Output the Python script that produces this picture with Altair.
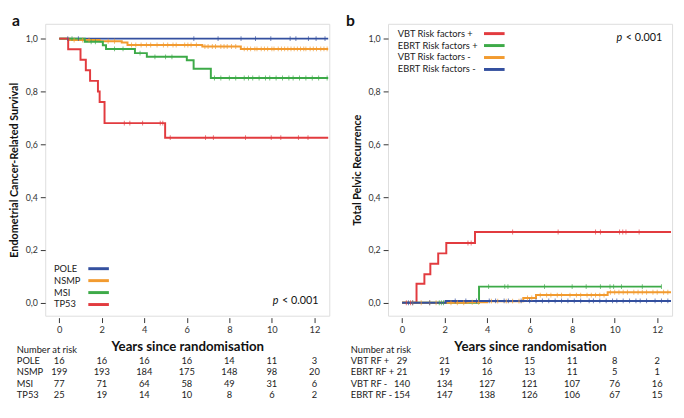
import altair as alt
import pandas as pd

FONT = "Lato"
W, H = 290, 298
X_DOMAIN = [-0.66, 12.7]
Y_DOMAIN = [-0.049, 1.056]
YEARS = [0, 2, 4, 6, 8, 10, 12]
Y_TICKS = [0.0, 0.2, 0.4, 0.6, 0.8, 1.0]

# ---------------- Panel a: cancer-related survival ----------------
A_GROUPS = ["POLE", "NSMP", "MSI", "TP53"]
A_COLORS = ["#34509f", "#f29b30", "#3daa48", "#e23b3f"]
A_TIMES = {
    "POLE": [0.0],
    "NSMP": [0.0, 0.5, 1.9, 2.94, 3.21, 6.73, 8.54],
    "MSI": [0.0, 1.2, 2.05, 2.2, 3.56, 4.12, 6.0, 6.32, 7.13],
    "TP53": [0.0, 0.42, 1.0, 1.25, 1.45, 1.82, 1.9, 2.13, 4.98],
}
A_VALUES = {
    "POLE": [1.0],
    "NSMP": [1.0, 0.995, 0.99, 0.985, 0.976, 0.97, 0.961],
    "MSI": [1.0, 0.988, 0.975, 0.961, 0.945, 0.931, 0.918, 0.886, 0.851],
    "TP53": [1.0, 0.96, 0.92, 0.88, 0.84, 0.80, 0.76, 0.68, 0.625],
}
A_END = {"POLE": 12.65, "NSMP": 12.65, "MSI": 12.65, "TP53": 12.65}
A_CENSOR = {
    "POLE": [0.4, 0.9, 6.33, 7.47, 8.55, 9.23, 9.95, 10.86, 11.13, 11.72, 12.08, 12.5],
    "NSMP": [0.7, 1.1, 1.4, 2.3, 2.6, 3.4, 3.6, 3.85, 4.1, 4.3, 4.6, 4.9, 5.1, 5.35, 5.5,
             5.9, 6.05, 6.2, 6.45, 6.85, 7.0, 7.2, 7.35, 7.6, 7.75, 7.9, 8.1, 8.3, 8.7,
             8.85, 9.0, 9.2, 9.3, 9.5, 9.65, 9.8, 10.0, 10.1, 10.3, 10.45, 10.6, 10.75,
             10.9, 11.05, 11.2, 11.35, 11.5, 11.6, 11.8, 11.95, 12.1, 12.3, 12.45, 12.6],
    "MSI": [0.6, 1.5, 1.7, 2.6, 3.0, 3.8, 4.5, 5.0, 5.3, 7.3, 7.6, 8.0, 8.3, 8.7, 8.9,
            9.1, 9.4, 9.7, 9.9, 10.2, 10.5, 10.8, 11.0, 11.3, 11.6, 11.9, 12.2, 12.6],
    "TP53": [3.06, 3.32, 3.92, 4.75, 4.87, 5.22, 6.88, 7.25, 8.76, 9.97, 10.42, 11.25, 11.7],
}
A_RISK_LABELS = ["POLE", "NSMP", "MSI", "TP53"]
A_RISK = [
    [16, 16, 16, 16, 14, 11, 3],
    [199, 193, 184, 175, 148, 98, 20],
    [77, 71, 64, 58, 49, 31, 6],
    [25, 19, 14, 10, 8, 6, 2],
]

# ---------------- Panel b: total pelvic recurrence ----------------
B_GROUPS = ["VBT Risk factors +", "EBRT Risk factors +", "VBT Risk factors -", "EBRT Risk factors -"]
B_COLORS = ["#e23b3f", "#3daa48", "#f29b30", "#34509f"]
B_TIMES = {
    "VBT Risk factors +": [0.0, 0.68, 1.05, 1.33, 1.70, 2.08, 3.43],
    "EBRT Risk factors +": [0.0, 3.62],
    "VBT Risk factors -": [0.0, 3.1, 4.0, 5.7, 6.3, 9.67],
    "EBRT Risk factors -": [0.0, 2.05],
}
B_VALUES = {
    "VBT Risk factors +": [0.0, 0.072, 0.108, 0.148, 0.187, 0.226, 0.268],
    "EBRT Risk factors +": [0.0, 0.061],
    "VBT Risk factors -": [0.0, 0.002, 0.006, 0.018, 0.029, 0.04],
    "EBRT Risk factors -": [0.0, 0.007],
}
B_END = {"VBT Risk factors +": 12.65, "EBRT Risk factors +": 12.2,
         "VBT Risk factors -": 12.65, "EBRT Risk factors -": 12.65}
B_CENSOR = {
    "VBT Risk factors +": [0.2, 0.4, 3.1, 3.25, 5.2, 7.34, 9.1, 9.33, 10.23, 10.38, 10.53, 11.15],
    "EBRT Risk factors +": [1.75, 1.85, 1.95, 4.07, 4.83, 4.98, 6.7, 8.0, 8.66, 9.33, 9.78,
                            9.95, 10.32, 11.3, 12.2],
    "VBT Risk factors -": [0.5, 0.9, 1.3, 1.6, 2.3, 2.6, 2.9, 3.3, 3.6, 4.2, 4.5, 4.9, 5.2,
                           5.5, 5.9, 6.1, 6.5, 6.8, 7.0, 7.3, 7.5, 7.9, 8.2, 8.4, 8.7, 8.9,
                           9.1, 9.3, 9.5, 9.8, 10.0, 10.2, 10.4, 10.6, 10.9, 11.1, 11.3,
                           11.5, 11.8, 12.0, 12.3, 12.5],
    "EBRT Risk factors -": [0.3, 0.5, 1.3, 2.5, 3.0, 3.5, 4.1, 4.4, 4.8, 5.0, 5.6, 6.0, 6.3,
                            6.6, 6.9, 7.2, 7.5, 7.8, 8.1, 8.4, 8.8, 9.0, 9.3, 9.6, 9.9,
                            10.1, 10.4, 10.7, 11.0, 11.2, 11.5, 11.9, 12.2, 12.5],
}
B_RISK_LABELS = ["VBT RF +", "EBRT RF +", "VBT RF -", "EBRT RF -"]
B_RISK = [
    [29, 21, 16, 15, 11, 8, 2],
    [21, 19, 16, 13, 11, 5, 1],
    [140, 134, 127, 121, 107, 76, 16],
    [154, 147, 138, 126, 106, 67, 15],
]


def step_value(times, values, t):
    v = values[0]
    for ti, vi in zip(times, values):
        if ti <= t:
            v = vi
    return v


def panel(letter, groups, colors, times, values, ends, censor, risk_labels, risk,
          ytitle, legend_top, p_top, label_x, title_pad):
    xs = alt.Scale(domain=X_DOMAIN, nice=False, zero=False)
    ys = alt.Scale(domain=Y_DOMAIN, nice=False, zero=False)
    xaxis = alt.Axis(values=YEARS, title="Years since randomisation", grid=False,
                     domain=False, offset=2, tickSize=5, tickColor="#333",
                     labelFontSize=9.5, labelColor="#333", labelFont=FONT, labelPadding=2,
                     titleFont=FONT, titleFontSize=13.5, titleFontWeight="bold",
                     titleColor="#111", titlePadding=6)
    yaxis = alt.Axis(values=Y_TICKS, title=ytitle, grid=False, domain=False, offset=0,
                     tickSize=5, tickColor="#333", labelFontSize=9, labelColor="#333",
                     labelFont=FONT, labelPadding=3,
                     labelExpr="replace(format(datum.value, '.1f'), '.', ',')",
                     titleFont=FONT, titleFontSize=11, titleFontWeight="bold",
                     titleColor="#111", titlePadding=title_pad)
    cscale = alt.Scale(domain=groups, range=colors)

    rows = []
    for g in groups:
        for t, v in zip(times[g], values[g]):
            rows.append({"g": g, "t": t, "s": v})
        rows.append({"g": g, "t": ends[g], "s": values[g][-1]})
    curves = pd.DataFrame(rows)

    crow = []
    for g in groups:
        for t in censor[g]:
            crow.append({"g": g, "t": t, "s": step_value(times[g], values[g], t)})
    cens = pd.DataFrame(crow)

    lines = alt.Chart(curves).mark_line(interpolate="step-after", strokeWidth=2).encode(
        x=alt.X("t:Q", scale=xs, axis=xaxis),
        y=alt.Y("s:Q", scale=ys, axis=yaxis),
        color=alt.Color("g:N", scale=cscale, legend=None),
        detail="g:N",
    )
    ticks = alt.Chart(cens).mark_tick(orient="vertical", size=5, thickness=1).encode(
        x=alt.X("t:Q", scale=xs, axis=xaxis),
        y=alt.Y("s:Q", scale=ys, axis=yaxis),
        color=alt.Color("g:N", scale=cscale, legend=None),
    )
    layers = [lines, ticks]

    # legend (label left, line right)
    ly, lx, lx1, lx2, dy = legend_top
    for i, (g, c) in enumerate(zip(groups, colors)):
        d = pd.DataFrame({"label": [g]})
        layers.append(alt.Chart(d).mark_text(align="left", baseline="middle", font=FONT,
                                             fontSize=9.5, color="#222").encode(
            x=alt.value(lx), y=alt.value(ly + dy * i), text="label:N"))
        layers.append(alt.Chart(d).mark_rule(color=c, strokeWidth=3).encode(
            x=alt.value(lx1), x2=alt.value(lx2), y=alt.value(ly + dy * i)))

    # p value
    px, py = p_top
    layers.append(alt.Chart(pd.DataFrame({"s": ["< 0.001"]})).mark_text(
        align="right", baseline="middle", font=FONT, fontSize=11, color="#111").encode(
        x=alt.value(px), y=alt.value(py), text="s:N"))
    layers.append(alt.Chart(pd.DataFrame({"s": ["p"]})).mark_text(
        align="right", baseline="middle", font=FONT, fontSize=11, fontStyle="italic",
        color="#111").encode(x=alt.value(px - 41), y=alt.value(py), text="s:N"))

    # panel letter
    layers.append(alt.Chart(pd.DataFrame({"s": [letter]})).mark_text(
        align="left", baseline="alphabetic", font=FONT, fontSize=16, fontWeight="bold",
        color="#111").encode(x=alt.value(label_x - 5), y=alt.value(2), text="s:N"))

    # number at risk table
    layers.append(alt.Chart(pd.DataFrame({"s": ["Number at risk"]})).mark_text(
        align="left", baseline="middle", font=FONT, fontSize=9.5, color="#222").encode(
        x=alt.value(label_x), y=alt.value(H + 35), text="s:N"))
    for i, (lab, vals) in enumerate(zip(risk_labels, risk)):
        yy = H + 46.5 + 11.5 * i
        layers.append(alt.Chart(pd.DataFrame({"s": [lab]})).mark_text(
            align="left", baseline="middle", font=FONT, fontSize=9.5, color="#222").encode(
            x=alt.value(label_x), y=alt.value(yy), text="s:N"))
        d = pd.DataFrame({"t": YEARS, "n": vals})
        layers.append(alt.Chart(d).mark_text(
            align="center", baseline="middle", font=FONT, fontSize=9.5, color="#222").encode(
            x=alt.X("t:Q", scale=xs, axis=xaxis), y=alt.value(yy), text="n:Q"))

    return alt.layer(*layers).properties(width=W, height=H)


pa = panel("a", A_GROUPS, A_COLORS, A_TIMES, A_VALUES, A_END, A_CENSOR,
           A_RISK_LABELS, A_RISK, "Endometrial Cancer-Related Survival",
           (H - 48, 9, 44, 65, 12.2), (W - 11, H - 15), -29, 6)
pb = panel("b", B_GROUPS, B_COLORS, B_TIMES, B_VALUES, B_END, B_CENSOR,
           B_RISK_LABELS, B_RISK, "Total Pelvic Recurrence",
           (10, 10, 98, 119, 12.2), (W - 10, 15), -38, 6)

chart = alt.hconcat(pa, pb, spacing=12, padding=0).resolve_scale(
    color="independent"
).configure_view(
    stroke="#5f5f5f", strokeWidth=1
).configure(font=FONT)

chart.save("out.html", embed_options={"renderer": "svg", "actions": False})
